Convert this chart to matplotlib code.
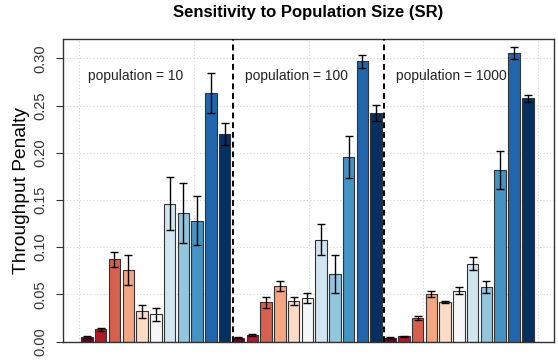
import matplotlib
matplotlib.use("Agg")
import matplotlib.pyplot as plt
import numpy as np

plt.rcParams["font.family"] = ["Liberation Sans", "DejaVu Sans"]

# one group of 11 configurations per population size
populations = ["10", "100", "1000"]
bar_colors = ["#67001F", "#B2182B", "#D6604D", "#F4A582", "#FDDBC7", "#F7F7F7",
              "#D1E5F0", "#92C5DE", "#4393C3", "#2166AC", "#053061"]

pop10_mean = [0.005, 0.013, 0.087, 0.076, 0.032, 0.029, 0.146, 0.136, 0.128, 0.263, 0.220]
pop10_err = [0.001, 0.0015, 0.0078, 0.0157, 0.007, 0.0069, 0.0278, 0.032, 0.026, 0.021, 0.0117]

pop100_mean = [0.004, 0.007, 0.0415, 0.0585, 0.0426, 0.0461, 0.108, 0.0716, 0.1957, 0.2967, 0.2423]
pop100_err = [0.0005, 0.001, 0.0057, 0.0055, 0.0043, 0.005, 0.0165, 0.0198, 0.0224, 0.0064, 0.0083]

pop1000_mean = [0.004, 0.0055, 0.0246, 0.0504, 0.0415, 0.0539, 0.0825, 0.0575, 0.1815, 0.3056, 0.2575]
pop1000_err = [0.0005, 0.0008, 0.002, 0.003, 0.001, 0.0034, 0.0071, 0.0064, 0.02, 0.0062, 0.004]

means = pop10_mean + pop100_mean + pop1000_mean
errs = pop10_err + pop100_err + pop1000_err
colors = bar_colors * len(populations)

# R barplot style coordinates: width 1, space 0.2
n = len(means)
x = 0.7 + 1.2 * np.arange(n)

fig = plt.figure(figsize=(5.58, 3.62), dpi=100)
ax = fig.add_axes([63 / 558, 1 - 341.5 / 362, (554 - 63) / 558, (341.5 - 39) / 362])

ax.bar(x, means, width=1.0, color=colors, edgecolor="#333333", linewidth=0.8, zorder=2)
ax.errorbar(x, means, yerr=errs, fmt="none", ecolor="black", elinewidth=1.0,
            capsize=3, capthick=1.0, zorder=3)

ax.set_xlim(-1.384, 41.384)
ax.set_ylim(0, 0.3205)

# grid like R's grid()
for gx in [0, 10, 20, 30, 40]:
    ax.axvline(gx, color="#d3d3d3", linestyle=(0, (1, 2)), linewidth=0.8, zorder=1)
for gy in np.arange(0, 0.31, 0.05):
    ax.axhline(gy, color="#d3d3d3", linestyle=(0, (1, 2)), linewidth=0.8, zorder=1)

# group separators
for sx in [13.4, 26.6]:
    ax.axvline(sx, color="black", linestyle=(0, (3, 2)), linewidth=1.4, zorder=4)

label_x = [0.8, 14.5, 27.6]
for lx, pop in zip(label_x, populations):
    ax.text(lx, 0.2808, "population = %s" % pop, fontsize=10, color="#222222",
            ha="left", va="center", zorder=5)

ax.set_xticks([])
ax.set_yticks(np.arange(0, 0.31, 0.05))
ax.set_yticklabels(["0.00", "0.05", "0.10", "0.15", "0.20", "0.25", "0.30"],
                   rotation=90, va="center")
ax.tick_params(axis="y", length=5, width=0.8, labelsize=10.5, pad=6, colors="#333333",
               labelcolor="#333333")
ax.set_ylabel("Throughput Penalty", fontsize=13.8, labelpad=3)

for spine in ax.spines.values():
    spine.set_color("#333333")
    spine.set_linewidth(1.0)

fig.text(308.5 / 558, 1 - 13 / 362, "Sensitivity to Population Size (SR)",
         fontsize=12, fontweight="bold", ha="center", va="center")

fig.savefig("out.png", dpi=100)
